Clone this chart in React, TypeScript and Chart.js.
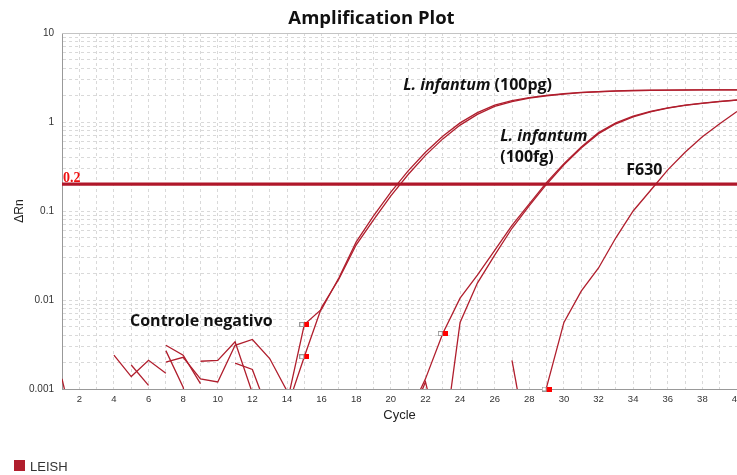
import React, { useEffect, useRef } from 'react';
import { Chart, registerables } from 'chart.js';

Chart.register(...registerables);

// ---- Data ----
const xMin = 1;
const xMax = 40;
const yMin = 0.001;
const yMax = 10;
const yTickValues = [0.001, 0.01, 0.1, 1, 10];
const yTickLabels = ['0.001', '0.01', '0.1', '1', '10'];
const yMinorSteps = [1, 2, 3, 4, 5, 6, 7, 8, 9];
const thresholdValue = 0.2;
const thresholdLabel = '0.2';

// L. infantum (100pg) replicates
const pgACycles = [14, 15, 16, 17, 18, 19, 20, 21, 22, 23, 24, 25, 26, 27, 28, 29, 30, 31, 32, 33, 34, 35, 36, 37, 38, 39, 40];
const pgAValues = [0.00069, 0.0053, 0.0079, 0.0178, 0.045, 0.0879, 0.163, 0.282, 0.457, 0.692, 0.977, 1.274, 1.549, 1.738, 1.884, 1.995, 2.08, 2.148, 2.198, 2.234, 2.26, 2.275, 2.286, 2.29, 2.29, 2.29, 2.29];
const pgBCycles = [14, 15, 16, 17, 18, 19, 20, 21, 22, 23, 24, 25, 26, 27, 28, 29, 30, 31, 32, 33, 34, 35, 36, 37, 38, 39, 40];
const pgBValues = [0.00061, 0.0023, 0.0083, 0.0172, 0.0417, 0.0794, 0.148, 0.257, 0.422, 0.646, 0.923, 1.216, 1.496, 1.698, 1.854, 1.972, 2.061, 2.133, 2.188, 2.223, 2.249, 2.27, 2.28, 2.285, 2.29, 2.29, 2.29];

// L. infantum (100fg) replicates
const fgACycles = [21, 22, 23, 24, 25, 26, 27, 28, 29, 30, 31, 32, 33, 34, 35, 36, 37, 38, 39, 40];
const fgAValues = [0.0005, 0.0013, 0.0042, 0.0105, 0.019, 0.036, 0.069, 0.12, 0.21, 0.34, 0.525, 0.759, 0.977, 1.161, 1.318, 1.445, 1.549, 1.633, 1.706, 1.766];
const fgBCycles = [21, 22, 23, 24, 25, 26, 27, 28, 29, 30, 31, 32, 33, 34, 35, 36, 37, 38, 39, 40];
const fgBValues = [0.0004, 0.0012, 0.0002, 0.0056, 0.0155, 0.032, 0.064, 0.115, 0.2, 0.33, 0.51, 0.74, 0.955, 1.14, 1.3, 1.43, 1.535, 1.62, 1.695, 1.76];

// F630
const f630Cycles = [28, 29, 30, 31, 32, 33, 34, 35, 36, 37, 38, 39, 40];
const f630Values = [0.0002, 0.00105, 0.0056, 0.0126, 0.0229, 0.05, 0.1, 0.17, 0.29, 0.457, 0.684, 0.955, 1.31];

// Negative control / background wells
const ncICycles = [1, 2];
const ncIValues = [0.0013, 0.0002];
const ncACycles = [4, 5, 6, 7];
const ncAValues = [0.0024, 0.00138, 0.0021, 0.0015];
const ncBCycles = [5, 6];
const ncBValues = [0.00186, 0.0011];
const ncCCycles = [7, 8, 9];
const ncCValues = [0.0031, 0.0024, 0.00115];
const ncDCycles = [7, 8, 9];
const ncDValues = [0.0027, 0.00105, 0.0001];
const ncECycles = [7, 8, 9, 10, 11, 12, 13, 14];
const ncEValues = [0.002, 0.00227, 0.0013, 0.0012, 0.0031, 0.0036, 0.0022, 0.00095];
const ncGCycles = [9, 10, 11, 12];
const ncGValues = [0.00205, 0.0021, 0.0034, 0.0009];
const ncHCycles = [11, 12, 13];
const ncHValues = [0.00195, 0.00166, 0.0005];
const ncJCycles = [27, 28];
const ncJValues = [0.0021, 0.00018];

// Baseline/Ct markers
const markerCycles = [15, 15, 23, 29];
const markerValues = [0.0053, 0.0023, 0.0042, 0.001];

const legendLabel = 'LEISH';

// ---- Styles ----
const CURVE = '#b01e2d';
const THRESH = '#b0172a';

function toPoints(cs: number[], vs: number[]) {
  return cs.map((c, i) => ({ x: c, y: vs[i] }));
}

const annotations = [
  { parts: [{ t: 'L. infantum', italic: true }, { t: ' (100pg)', italic: false }], x: 20.71, y: 2.26 },
  { parts: [{ t: 'L. infantum', italic: true }], x: 26.32, y: 0.611 },
  { parts: [{ t: '(100fg)', italic: false }], x: 26.32, y: 0.355 },
  { parts: [{ t: 'F630', italic: false }], x: 33.6, y: 0.254 },
  { parts: [{ t: 'Controle negativo', italic: false }], x: 4.93, y: 0.00514 },
];

const overlayPlugin = {
  id: 'overlay',
  afterDraw(chart: any) {
    const { ctx, chartArea, scales } = chart;
    const xs = scales.x;
    const ys = scales.y;
    ctx.save();
    // top border
    ctx.strokeStyle = '#c4c4c4';
    ctx.lineWidth = 1;
    ctx.beginPath();
    ctx.moveTo(chartArea.left, chartArea.top + 0.5);
    ctx.lineTo(chartArea.right, chartArea.top + 0.5);
    ctx.stroke();

    // title
    ctx.fillStyle = '#111';
    ctx.font = 'bold 18.5px "Open Sans"';
    ctx.textAlign = 'center';
    ctx.textBaseline = 'alphabetic';
    ctx.fillText('Amplification Plot', 371.5, 23.5);

    // threshold label
    ctx.fillStyle = '#ee1111';
    ctx.font = 'bold 14px "Liberation Serif"';
    ctx.textAlign = 'left';
    ctx.fillText(thresholdLabel, chartArea.left + 1, ys.getPixelForValue(thresholdValue) - 2);

    // annotations
    ctx.fillStyle = '#111';
    for (const a of annotations) {
      let px = xs.getPixelForValue(a.x);
      const py = ys.getPixelForValue(a.y);
      for (const p of a.parts) {
        ctx.font = (p.italic ? 'italic ' : '') + 'bold 16px "Open Sans"';
        ctx.fillText(p.t, px, py);
        px += ctx.measureText(p.t).width;
      }
    }

    // legend
    ctx.fillStyle = CURVE;
    ctx.fillRect(14, 460, 11, 11);
    ctx.fillStyle = '#333';
    ctx.font = '13px "Liberation Sans"';
    ctx.fillText(legendLabel, 30, 471);
    ctx.restore();
  },
};

export default function App() {
  const ref = useRef<HTMLCanvasElement>(null);
  useEffect(() => {
    if (!ref.current) return;
    const mk = document.createElement('canvas');
    mk.width = 10;
    mk.height = 5;
    const m = mk.getContext('2d')!;
    m.fillStyle = '#ffffff';
    m.fillRect(0, 0, 4, 4);
    m.strokeStyle = '#999';
    m.lineWidth = 1;
    m.strokeRect(0.5, 0.5, 4, 4);
    m.fillStyle = '#ff0000';
    m.fillRect(5, 0, 5, 5);

    const curve = (cs: number[], vs: number[], w = 1.3) => ({
      type: 'line',
      data: toPoints(cs, vs),
      borderColor: CURVE,
      borderWidth: w,
      pointRadius: 0,
      tension: 0,
      fill: false,
      order: 2,
    });

    const logTicks: { value: number }[] = [];
    for (let i = 0; i < yTickValues.length; i++) {
      const dec = yTickValues[i];
      if (i === yTickValues.length - 1) {
        logTicks.push({ value: dec });
      } else {
        for (const s of yMinorSteps) logTicks.push({ value: +(dec * s).toPrecision(6) });
      }
    }

    const chart = new Chart(ref.current, {
      type: 'line',
      data: {
        datasets: [
          {
            type: 'line',
            data: toPoints(markerCycles, markerValues),
            showLine: false,
            pointStyle: mk as any,
            pointRadius: 4,
            clip: false as any,
            order: -1,
          } as any,
          {
            type: 'line',
            data: [{ x: xMin, y: thresholdValue }, { x: xMax, y: thresholdValue }],
            borderColor: THRESH,
            borderWidth: 3.2,
            pointRadius: 0,
            order: 0,
          } as any,
          curve(pgACycles, pgAValues),
          curve(pgBCycles, pgBValues),
          curve(fgACycles, fgAValues),
          curve(fgBCycles, fgBValues),
          curve(f630Cycles, f630Values),
          curve(ncICycles, ncIValues),
          curve(ncACycles, ncAValues),
          curve(ncBCycles, ncBValues),
          curve(ncCCycles, ncCValues),
          curve(ncDCycles, ncDValues),
          curve(ncECycles, ncEValues),
          curve(ncGCycles, ncGValues),
          curve(ncHCycles, ncHValues),
          curve(ncJCycles, ncJValues),
        ] as any,
      },
      options: {
        animation: false,
        responsive: false,
        events: [],
        layout: { padding: { left: 0, top: 33, right: 23, bottom: 46 } },
        plugins: { legend: { display: false }, tooltip: { enabled: false }, title: { display: false } },
        scales: {
          x: {
            type: 'linear',
            min: xMin,
            max: xMax,
            afterFit: (s: any) => { s.height = 40; },
            ticks: {
              stepSize: 1,
              autoSkip: false,
              maxRotation: 0,
              padding: 5,
              color: '#333',
              font: { family: 'Liberation Sans', size: 9.5 },
              callback: (v: any) => (Number(v) % 2 === 0 ? String(v) : ''),
            },
            grid: { color: '#d9d9d9', drawTicks: false, lineWidth: 1 },
            border: { display: true, color: '#999', width: 1, dash: [3, 3] },
            title: {
              display: true,
              text: 'Cycle',
              color: '#222',
              font: { family: 'Liberation Sans', size: 13 },
              padding: { top: 0, bottom: 6 },
            },
          },
          y: {
            type: 'logarithmic',
            min: yMin,
            max: yMax,
            afterFit: (s: any) => { s.width = 62; },
            afterBuildTicks: (s: any) => { s.ticks = logTicks.map((t) => ({ value: t.value })); },
            ticks: {
              autoSkip: false,
              padding: 8,
              color: '#333',
              font: { family: 'Liberation Sans', size: 10 },
              callback: (v: any) => {
                const i = yTickValues.findIndex((t) => Math.abs(Math.log10(Number(v)) - Math.log10(t)) < 1e-6);
                return i >= 0 ? yTickLabels[i] : '';
              },
            },
            grid: { color: '#d9d9d9', drawTicks: false, lineWidth: 1 },
            border: { display: true, color: '#999', width: 1, dash: [3, 3] },
            title: {
              display: true,
              text: 'ΔRn',
              color: '#222',
              font: { family: 'Liberation Sans', size: 12 },
              padding: { top: 12, bottom: 0 },
            },
          },
        },
      } as any,
      plugins: [overlayPlugin],
    });
    return () => chart.destroy();
  }, []);

  return (
    <div style={{ position: 'fixed', left: 0, top: 0, width: 737, height: 475, overflow: 'hidden', background: '#fff' }}>
      <canvas ref={ref} width={760} height={475} style={{ display: 'block' }} />
    </div>
  );
}
